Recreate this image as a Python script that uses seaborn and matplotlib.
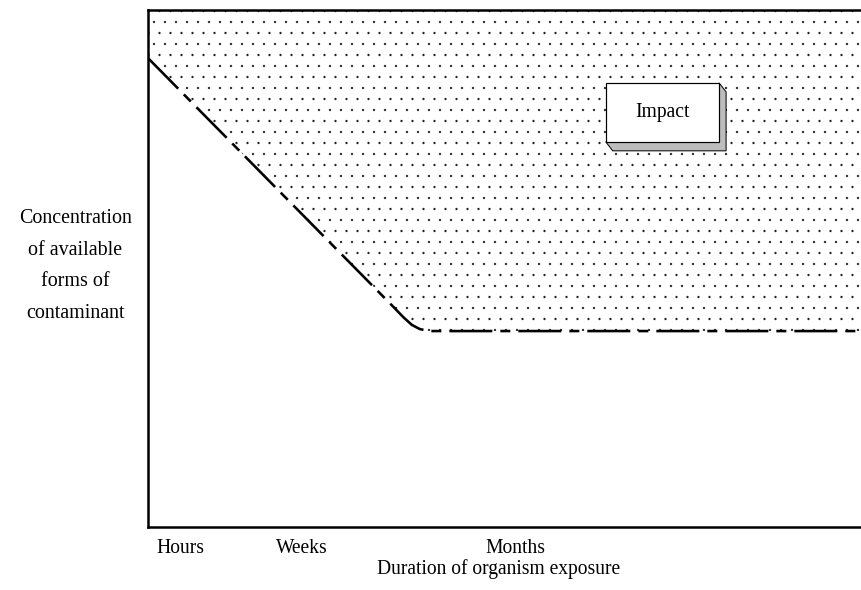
import pandas as pd
import seaborn as sns
import matplotlib.pyplot as plt
from matplotlib.patches import Rectangle, Polygon

# curve (x = exposure time, y = concentration, both on a 0-100 scale)
exposure = [0, 34.4, 35.8, 37.0, 38.1, 39.3, 100]
concentration = [90.7, 42.6, 40.6, 39.1, 38.3, 37.9, 37.9]
tick_pos = [4.5, 21.6, 51.5]
tick_labels = ['Hours', 'Weeks', 'Months']

DPI = 66
pt = 72 / DPI  # pixels -> points

sns.set_theme(style='white')
plt.rcParams['font.family'] = ['Liberation Serif', 'DejaVu Serif']
plt.rcParams['hatch.linewidth'] = 0.1
plt.rcParams['hatch.color'] = 'black'
plt.rcParams['lines.scale_dashes'] = False

fig = plt.figure(figsize=(861 / DPI, 590 / DPI), dpi=DPI)
ax = fig.add_axes([148 / 861, 63 / 590, 713 / 861, 517 / 590])

df = pd.DataFrame({'exposure': exposure, 'concentration': concentration})

# dotted "impact" zone above the threshold curve
ax.fill_between(df.exposure, df.concentration, 100, facecolor='white',
                edgecolor='#222222', hatch='.', linewidth=0, zorder=1)
sns.lineplot(data=df, x='exposure', y='concentration', sort=False,
             color='black', lw=2.6 * pt, ax=ax, zorder=3)
ax.lines[-1].set_linestyle((0, (43 * pt, 8 * pt, 10 * pt, 8 * pt)))

ax.set_xlim(0, 100)
ax.set_ylim(0, 100)

# 3D "Impact" box
x0, y0, w, h = 0.642, 0.745, 0.159, 0.114
dx, dy = 0.0098, -0.0174
side = Polygon([(x0, y0), (x0 + w, y0), (x0 + w, y0 + h), (x0 + w + dx, y0 + h + dy),
                (x0 + w + dx, y0 + dy), (x0 + dx, y0 + dy)], closed=True,
               transform=ax.transAxes, facecolor='#bdbdbd', edgecolor='black',
               lw=1 * pt, zorder=5)
front = Rectangle((x0, y0), w, h, transform=ax.transAxes, facecolor='white',
                  edgecolor='black', lw=1.2 * pt, zorder=6)
ax.add_patch(side)
ax.add_patch(front)
ax.text(x0 + w / 2, y0 + h / 2, 'Impact', transform=ax.transAxes, ha='center',
        va='center', fontsize=19.5 * pt, color='black', zorder=7)

for s in ['left', 'top', 'bottom']:
    ax.spines[s].set_linewidth(2.5 * pt)
    ax.spines[s].set_color('black')
ax.spines['right'].set_visible(False)

ax.set_yticks([])
ax.set_xticks(tick_pos, tick_labels)
ax.tick_params(axis='x', length=0, pad=12 * pt, labelsize=19.5 * pt, colors='black')

ax.set_xlabel('Duration of organism exposure', fontsize=19.5 * pt, color='black')
ax.xaxis.set_label_coords(0.491, -0.062)
ax.set_ylabel('Concentration\nof available\nforms of\ncontaminant', rotation=0,
              fontsize=20 * pt, color='black', ha='center', va='center',
              multialignment='center', linespacing=1.9)
ax.yaxis.set_label_coords(-0.102, 0.505)

fig.savefig('out.png', dpi=DPI)
